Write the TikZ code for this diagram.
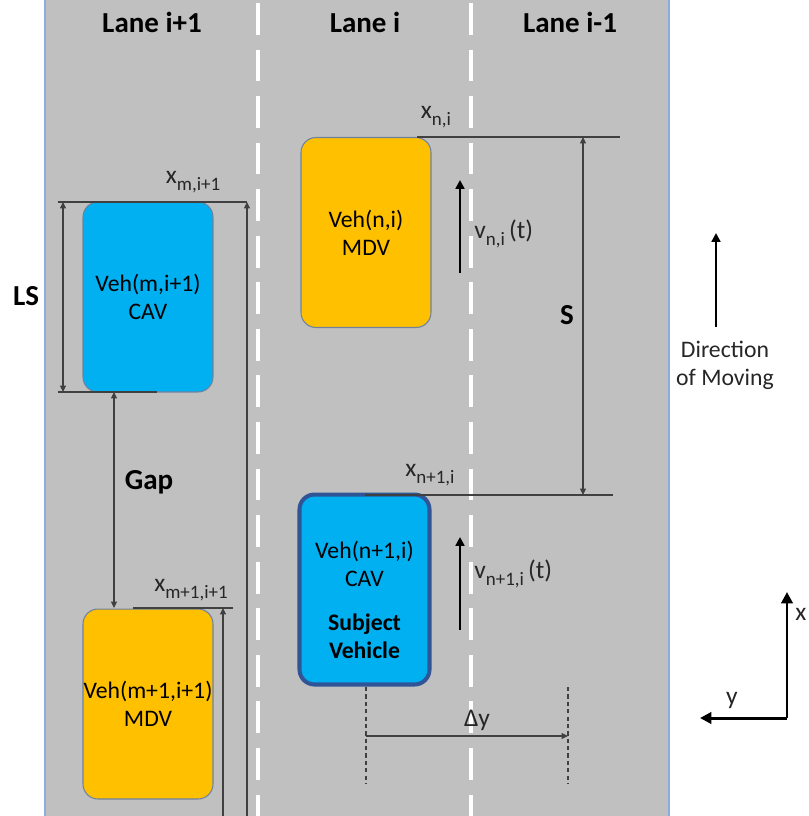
\documentclass[tikz,border=0pt]{standalone}
\usepackage{fontspec}
\setmainfont{Carlito}
\usetikzlibrary{arrows.meta,positioning,calc}
\definecolor{road}{RGB}{192,192,192}
\definecolor{roadedge}{RGB}{143,170,220}
\definecolor{cavblue}{RGB}{0,176,240}
\definecolor{mdvgold}{RGB}{255,192,0}
\definecolor{subjblue}{RGB}{47,85,151}
\definecolor{vehedge}{RGB}{110,130,160}
\definecolor{dimgray}{RGB}{64,64,64}
\definecolor{labelgray}{RGB}{38,38,38}
\newcommand{\lsub}[1]{\raisebox{-0.55ex}{\fontsize{10.8}{12}\selectfont#1}}

\begin{document}
\begin{tikzpicture}[
  x=0.02cm, y=-0.02cm,
  font=\fontsize{13.5}{16}\selectfont,
  lanetitle/.style={font=\fontsize{16.5}{19}\selectfont\bfseries},
  dimlabel/.style={font=\fontsize{16.5}{19}\selectfont\bfseries},
  poslabel/.style={text=labelgray, inner sep=0pt, font=\fontsize{14.5}{17}\selectfont},
  veh/.style={rounded corners=8.5pt, minimum width=2.6cm, minimum height=3.8cm, inner sep=0pt, align=center, draw=vehedge, line width=0.6pt},
  cav/.style={veh, fill=cavblue},
  mdv/.style={veh, fill=mdvgold},
  subj/.style={cav, draw=subjblue, line width=2.3pt},
  dimline/.style={draw=dimgray, line width=0.6pt},
  dimend/.style={dimline, {Triangle[length=3.6pt,width=3.4pt]}-},
  dimboth/.style={dimline, {Triangle[length=3.6pt,width=3.4pt]}-{Triangle[length=3.6pt,width=3.4pt]}},
  guide/.style={dimline, dash pattern=on 2.4pt off 1.8pt},
  speed/.style={draw=black, line width=1.6pt, -{Triangle[length=5pt,width=5pt]}},
  axisarrow/.style={draw=black, line width=1.7pt, -{Triangle[length=6.5pt,width=6.5pt]}}
]
\useasboundingbox (0,0) rectangle (809,816);
\clip (0,0) rectangle (809,816);
\fill[road] (45,0) rectangle (669,816);
\foreach \ex in {45,669} {
  \draw[roadedge, line width=0.9pt] (\ex,0) -- (\ex,816);
}
\foreach \lx in {258,471} {
  \draw[white, line width=2.3pt, dash pattern=on 18.1pt off 8.4pt] (\lx,3) -- (\lx,816);
}
\foreach \cx/\lane in {152/{Lane i+1},365/{Lane i},570/{Lane i-1}} {
  \node[lanetitle] at (\cx,22) {\lane};
}
\node[cav] (vehA) at (148,297) {Veh(m,i+1)\\CAV};
\node[mdv] (vehB) at (366,232.5) {Veh(n,i)\\MDV};
\node[subj] (vehS) at (364.5,589.5) {};
\node[align=center] (subjtext) at (364.5,600) {Veh(n+1,i)\\CAV\\[0.32cm]\textbf{Subject}\\\textbf{Vehicle}};
\node[mdv] (vehD) at (148,704) {Veh(m+1,i+1)\\MDV};
\coordinate (mtopL) at (58,202);   \coordinate (mtopR) at (247,202);
\coordinate (mbotL) at (58,392);   \coordinate (mbotR) at (157,392);
\coordinate (lsT) at (63,202);     \coordinate (lsB) at (63,392);
\coordinate (mlongB) at (247,816);
\coordinate (gapT) at (114,392);   \coordinate (gapB) at (114,608);
\coordinate (m1L) at (133,608);    \coordinate (m1R) at (233,608);
\coordinate (m1T) at (223,608);    \coordinate (m1B) at (223,816);
\coordinate (nL) at (417,137);     \coordinate (nR) at (620,137);
\coordinate (sT) at (583,137);     \coordinate (sB) at (583,495);
\coordinate (n1L) at (365,495);    \coordinate (n1R) at (613,495);
\coordinate (dyLT) at (366,687);   \coordinate (dyLB) at (366,783);
\coordinate (dyRT) at (568,687);   \coordinate (dyRB) at (568,783);
\coordinate (dyL) at (366,736);    \coordinate (dyR) at (568,736);
\draw[dimline] (mtopL) -- (mtopR);
\draw[dimline] (mbotL) -- (mbotR);
\draw[dimboth] (lsT) -- (lsB);
\draw[dimend] (mtopR) -- (mlongB);
\draw[dimboth] (gapT) -- (gapB);
\draw[dimline] (m1L) -- (m1R);
\draw[dimend] (m1T) -- (m1B);
\draw[dimline] (nL) -- (nR);
\draw[dimboth] (sT) -- (sB);
\draw[dimline] (n1L) -- (n1R);
\draw[guide] (dyLT) -- (dyLB);
\draw[guide] (dyRT) -- (dyRB);
\draw[dimline, -{Triangle[length=3.6pt,width=3.4pt]}] (dyL) -- (dyR);
\node[dimlabel] (ls) at (26,296) {LS};
\node[dimlabel] (gap) at (149,482) {Gap};
\node[dimlabel] (s) at (567,315) {S};
\node[poslabel] (xm) at (193,182) {x\lsub{m,i+1}};
\node[poslabel] (xm1) at (191,590) {x\lsub{m+1,i+1}};
\node[poslabel] (xn) at (436,117) {x\lsub{n,i}};
\node[poslabel] (xn1) at (430,475) {x\lsub{n+1,i}};
\node[poslabel] (dy) at (477,720) {Δy};
\coordinate (vnB) at (460,273);    \coordinate (vnT) at (460,180);
\coordinate (vn1B) at (460,630);   \coordinate (vn1T) at (460,537);
\draw[speed] (vnB) -- (vnT);
\draw[speed] (vn1B) -- (vn1T);
\node[poslabel, anchor=west] (vn) at (474,234) {v\lsub{n,i}\,(t)};
\node[poslabel, anchor=west] (vn1) at (474,574) {v\lsub{n+1,i}\,(t)};
\coordinate (dirB) at (716,327);   \coordinate (dirT) at (716,233);
\draw[speed] (dirB) -- (dirT);
\node[poslabel, align=center, font=\fontsize{13.5}{16}\selectfont] (dir) at (725,365) {Direction\\of Moving};
\coordinate (org) at (787,718);
\coordinate (xend) at (787,592);
\coordinate (yend) at (700,718);
\draw[axisarrow] (org) -- (xend);
\draw[axisarrow] (org) -- (yend);
\node[poslabel] (ylab) at (732,700) {y};
\node[poslabel] (xlab) at (801,614) {x};
\end{tikzpicture}
\end{document}
